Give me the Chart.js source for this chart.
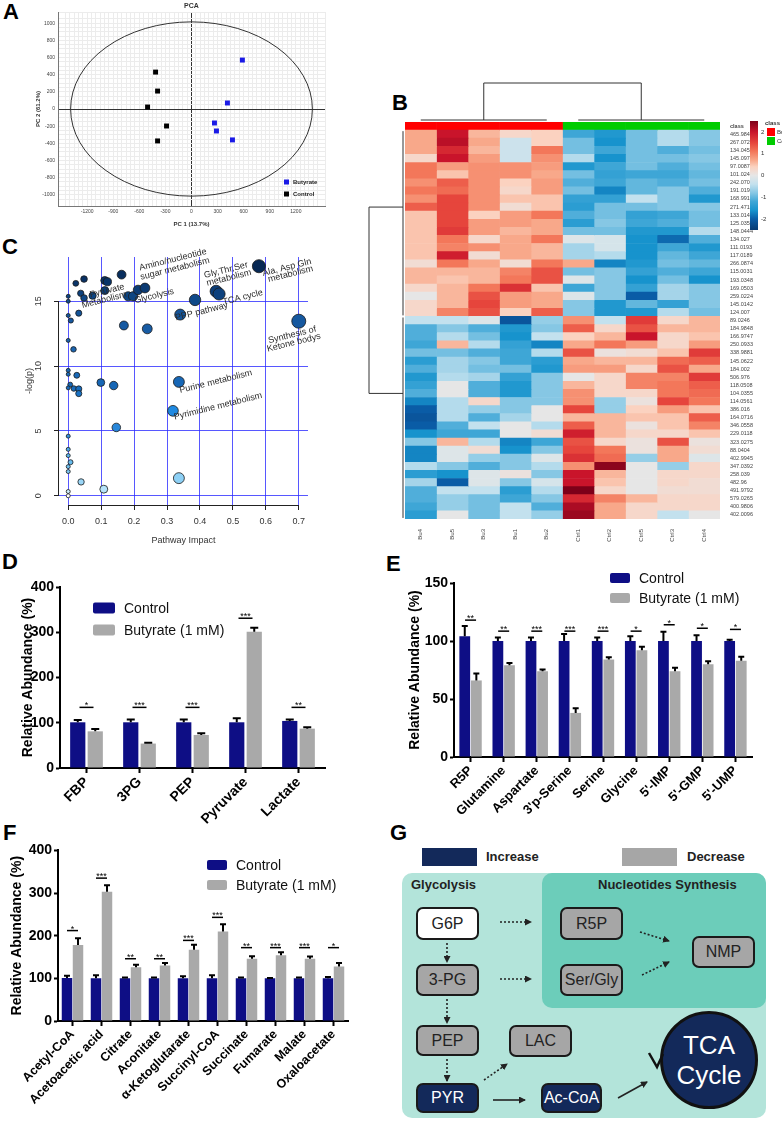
<!DOCTYPE html>
<html>
<head>
<meta charset="utf-8">
<script src="https://cdn.jsdelivr.net/npm/chart.js@4.4.1/dist/chart.umd.min.js"></script>
<style>
  body { margin:0; background:#fff; width:782px; height:1124px; position:relative; overflow:hidden;
         font-family:'Liberation Sans', Arial, sans-serif; }
  canvas { position:absolute; }
  .letter { position:absolute; font-weight:bold; font-size:22px; line-height:1; }
  .abs { position:absolute; }
  .glab { position:absolute; font-weight:bold; font-size:13px; color:#222; }
  .node { position:absolute; box-sizing:border-box; border:2px solid #1a1a1a; border-radius:7px;
          display:flex; align-items:center; justify-content:center; font-size:16px; color:#222; }
  .grey { background:#a6a6a6; }
  .navy { background:#13295a; color:#fff; }
</style>
</head>
<body>
<div class="letter" style="left:3px;top:1px">A</div>
<div class="letter" style="left:392px;top:92px">B</div>
<div class="letter" style="left:2px;top:236px">C</div>
<div class="letter" style="left:2px;top:551px">D</div>
<div class="letter" style="left:386px;top:553px">E</div>
<div class="letter" style="left:3px;top:822px">F</div>
<div class="letter" style="left:390px;top:822px">G</div>

<canvas id="pca" width="340" height="228" style="left:0;top:0"></canvas>
<canvas id="heat" width="452" height="485" style="left:330px;top:60px"></canvas>
<canvas id="path" width="335" height="322" style="left:0;top:228px"></canvas>
<canvas id="glyc" width="380" height="280" style="left:0;top:560px"></canvas>
<canvas id="nuc" width="402" height="280" style="left:380px;top:560px"></canvas>
<canvas id="tca" width="390" height="284" style="left:0;top:840px"></canvas>

<!-- panel G -->
<div class="abs" style="left:422px;top:848px;width:55px;height:18px;background:#13295a"></div>
<div class="glab" style="left:486px;top:849px">Increase</div>
<div class="abs" style="left:622px;top:848px;width:55px;height:18px;background:#a6a6a6"></div>
<div class="glab" style="left:687px;top:849px">Decrease</div>
<div class="abs" style="left:402px;top:873px;width:364px;height:245px;background:#b3e4da;border-radius:10px"></div>
<div class="abs" style="left:542px;top:873px;width:224px;height:135px;background:#6ccdba;border-radius:10px"></div>
<div class="glab" style="left:411px;top:877px">Glycolysis</div>
<div class="glab" style="left:598px;top:877px">Nucleotides Synthesis</div>
<div class="node" style="left:416px;top:907px;width:63px;height:33px;background:#fff">G6P</div>
<div class="node grey" style="left:416px;top:964px;width:63px;height:32px">3-PG</div>
<div class="node grey" style="left:416px;top:1025px;width:63px;height:31px">PEP</div>
<div class="node navy" style="left:416px;top:1083px;width:63px;height:30px">PYR</div>
<div class="node grey" style="left:560px;top:907px;width:63px;height:33px">R5P</div>
<div class="node grey" style="left:560px;top:964px;width:63px;height:32px">Ser/Gly</div>
<div class="node grey" style="left:692px;top:936px;width:63px;height:32px">NMP</div>
<div class="node grey" style="left:509px;top:1025px;width:63px;height:32px">LAC</div>
<div class="node navy" style="left:541px;top:1083px;width:61px;height:30px">Ac-CoA</div>
<div class="abs" style="left:660px;top:1011px;width:98px;height:98px;box-sizing:border-box;border-radius:50%;
     border:3px solid #111;background:#13295a;color:#fff;font-size:26px;line-height:30px;
     display:flex;align-items:center;justify-content:center;text-align:center">TCA<br>Cycle</div>
<svg class="abs" style="left:0;top:0" width="782" height="1124" viewBox="0 0 782 1124">
  <defs>
    <marker id="ah" markerWidth="7" markerHeight="7" refX="6" refY="3.5" orient="auto" markerUnits="userSpaceOnUse">
      <path d="M0,0 L7,3.5 L0,7 z" fill="#222"/>
    </marker>
  </defs>
  <g stroke="#222" stroke-width="1.6" stroke-dasharray="2,2" fill="none" marker-end="url(#ah)">
    <line x1="500" y1="922" x2="531" y2="922"/>
    <line x1="500" y1="979" x2="531" y2="979"/>
    <line x1="447" y1="943" x2="447" y2="962"/>
    <line x1="447" y1="999" x2="447" y2="1023"/>
    <line x1="447" y1="1059" x2="447" y2="1081"/>
    <line x1="484" y1="1080" x2="507" y2="1064"/>
    <line x1="640" y1="932" x2="669" y2="941"/>
    <line x1="642" y1="975" x2="669" y2="962"/>
  </g>
  <g stroke="#222" stroke-width="1.6" fill="none" marker-end="url(#ah)">
    <line x1="493" y1="1100" x2="525" y2="1100"/>
    <line x1="618" y1="1098" x2="647" y2="1082"/>
  </g>
  <polyline points="649,1053 657,1067 663,1054" stroke="#111" stroke-width="2.5" fill="none"/>
</svg>

<script>
// ---------- data ----------
// A: PCA scores
const pcaControlX = [-413, -390, -505, -287, -390];
const pcaControlY = [430, 209, 23, -198, -372];
const pcaButyrateX = [585, 413, 264, 287, 471];
const pcaButyrateY = [570, 70, -163, -256, -360];
const ellipseRadiusX = 1390;
const ellipseRadiusY = 1015;

// B: heatmap (rows = features, columns = samples)
const sampleLabels = ['Bu4', 'Bu5', 'Bu3', 'Bu1', 'Bu2', 'Ctrl1', 'Ctrl2', 'Ctrl5', 'Ctrl3', 'Ctrl4'];
const featureLabels = ['465.9845', '267.0729', '134.0456', '145.0977', '97.0087', '101.024', '242.0707',
  '191.0195', '168.9918', '271.4719', '133.0146', '125.0351', '148.0444', '134.027', '111.0193', '117.0189',
  '266.0874', '115.0031', '193.0348', '169.0503', '259.0224', '145.0142', '124.007', '89.0246', '184.9848',
  '166.9747', '250.0933', '338.9881', '145.0622', '184.002', '506.976', '118.0508', '104.0355', '114.0561',
  '386.016', '164.0716', '346.0558', '229.0118', '323.0275', '88.0404', '402.9945', '347.0392', '258.039',
  '482.96', '491.9792', '579.0265', '400.9806', '402.0096'];
const heatRows = [
  [0.7, 2.0, 0.6, 0.3, 0.4, -1.2, -1.5, -0.9, -0.5, -0.8],
  [0.7, 2.1, 0.7, -0.3, 0.4, -0.9, -1.6, -0.9, -0.5, -0.8],
  [0.7, 1.8, 0.6, -0.3, 1.1, -0.9, -1.2, -0.9, -1.1, -0.9],
  [0.3, 2.0, 0.8, -0.3, 0.9, -0.5, -1.6, -0.9, -0.9, -0.8],
  [1.1, 0.8, 0.9, 0.9, 0.8, -1.5, -1.2, -0.9, -1.1, -0.9],
  [1.1, 0.5, 0.9, 0.9, 0.7, -0.9, -1.3, -1.2, -1.2, -1.0],
  [0.9, 1.3, 0.9, 0.4, 0.8, -1.1, -1.2, -1.0, -1.1, -0.9],
  [1.1, 1.2, 0.9, 0.3, 0.8, -0.9, -1.7, -1.0, -0.8, -1.1],
  [0.9, 1.5, 0.9, 0.5, 0.5, -1.3, -1.3, -0.4, -0.8, -1.5],
  [1.3, 1.5, 0.9, 0.2, 0.5, -1.4, -0.9, -0.9, -0.8, -0.8],
  [0.5, 1.5, 0.4, 0.8, 1.1, -1.1, -0.9, -1.3, -1.2, -0.9],
  [0.5, 1.5, 0.8, 0.8, 0.7, -1.4, -0.8, -1.2, -1.1, -0.9],
  [0.5, 1.6, 0.8, 0.6, 0.7, -0.9, -0.9, -1.5, -1.5, -0.5],
  [0.5, 1.1, 0.3, 0.7, 1.1, -0.1, -0.2, -1.6, -1.9, -1.1],
  [0.5, 1.0, 0.9, 0.7, 0.6, -0.6, -0.2, -1.6, -1.2, -1.5],
  [0.5, 1.9, 0.2, 0.7, 0.6, -0.6, -0.5, -1.6, -1.0, -1.2],
  [0.2, 1.1, 0.7, 0.2, 1.1, 0.7, -1.7, -1.5, -0.9, -1.0],
  [0.6, 0.6, 0.6, 1.0, 1.4, -0.9, -0.8, -1.3, -1.1, -1.2],
  [0.6, 0.5, 0.6, 1.1, 1.4, -0.1, -0.8, -1.6, -0.9, -1.6],
  [0.3, 0.6, 1.1, 1.7, 0.5, -1.2, -0.8, -1.3, -0.6, -0.8],
  [0.0, 0.6, 1.4, 0.8, 0.7, -0.1, -0.8, -2.0, -0.6, -0.8],
  [0.3, 0.6, 1.5, 0.8, 0.7, -0.8, -1.5, -1.0, -1.3, -0.8],
  [0.3, 1.0, 1.4, 0.4, 1.3, -0.8, -1.5, -1.5, -0.5, -0.9],
  [-0.4, -0.4, -0.1, -2.1, -0.7, 0.9, -0.4, 1.6, 0.3, 0.6],
  [-1.1, -0.8, -1.1, -1.5, -0.8, 1.3, 0.3, 1.4, 0.6, 0.6],
  [-1.1, -0.5, -0.9, -1.6, -0.4, 0.4, 0.6, 2.0, 0.3, 0.5],
  [-1.2, 0.6, -0.5, -1.3, -1.7, 0.7, 1.1, 0.8, 0.3, 0.8],
  [-0.9, -0.9, -1.1, -1.2, -0.5, 1.4, 0.1, 0.2, 0.5, 1.6],
  [-1.4, -0.6, -0.8, -1.2, -1.4, 0.7, 0.6, 0.6, 1.2, 1.3],
  [-1.1, -0.6, -0.9, -0.9, -1.5, 0.8, 0.8, 0.3, 1.4, 0.7],
  [-1.5, -0.5, -0.6, -1.3, -0.8, 0.0, 0.3, 1.0, 1.0, 1.6],
  [-1.3, 0.0, -1.1, -1.5, -0.8, 0.6, 0.3, 1.0, 1.1, 1.3],
  [-1.1, 0.0, -1.1, -1.5, -0.8, 0.9, 0.3, 0.3, 1.1, 1.2],
  [-1.7, -0.5, 0.3, -0.8, -0.8, 0.9, -0.7, 0.1, 1.5, 1.1],
  [-2.0, -0.5, -0.7, -0.8, 0.0, 1.5, -0.7, 0.4, 0.8, 0.5],
  [-2.1, -0.5, -1.1, -0.6, 0.0, 0.6, 0.6, 0.5, 0.5, 1.3],
  [-2.0, -1.1, -0.4, 0.0, -0.5, 1.3, 0.6, 0.1, 0.5, 1.0],
  [-1.6, -1.2, -1.2, 0.0, 0.2, 1.9, 0.6, 0.3, 0.3, 0.5],
  [-0.8, 0.6, -0.5, -1.7, -1.2, 1.4, 0.3, 0.1, 1.4, 0.1],
  [-1.7, -0.1, 0.2, -1.6, -0.8, 1.5, 1.1, 0.1, 0.7, 0.2],
  [-1.7, -0.1, -0.7, -0.8, -0.1, 1.7, 1.2, -0.7, 0.7, -0.1],
  [-0.5, -0.8, -1.1, -0.8, -0.5, 0.9, 2.4, 0.0, -0.7, 0.3],
  [-1.4, -1.6, -0.1, 0.1, -0.8, 2.0, 0.6, 0.0, 0.3, 0.3],
  [-0.6, -2.0, -0.1, -0.8, -0.2, 2.0, 0.5, 0.0, 0.3, 0.2],
  [-1.1, -0.4, -0.4, -1.4, -0.5, 2.5, 0.3, 0.0, 0.2, 0.2],
  [-1.1, -0.7, -0.9, -1.2, -0.8, 1.8, 1.0, 0.6, 0.3, 0.3],
  [-1.2, -0.7, -0.9, -0.4, -1.1, 2.2, 0.7, 0.3, 0.3, 0.3],
  [-1.4, 0.0, -0.9, -0.4, -0.7, 2.3, 0.7, 0.3, -0.4, 0.0]
];

// C: pathway analysis
const pathwayImpact = [0.579, 0.700, 0.449, 0.458, 0.385, 0.340, 0.336, 0.336, 0.318, 0.146, 0.108, 0.039,
  0.240, 0.169, 0.099, 0.138, 0.162, 0.111, 0.119, 0.111, 0.182, 0.197, 0.212, 0.233, 0.048, 0.023, 0.038,
  0.048, 0.074, 0.032, 0.008, 0.016, 0.026, 0.006, 0.017, 0.032, 0.032, 0.007,
  0, 0, 0, 0, 0, 0, 0, 0, 0, 0, 0, 0, 0, 0];
const pathwayLogP = [17.7, 13.46, 15.77, 15.56, 15.1, 13.97, 1.36, 8.78, 6.55, 5.27, 0.51, 1.07,
  12.87, 13.13, 8.73, 8.5, 17.05, 16.6, 16.5, 15.82, 15.38, 15.38, 15.87, 16.02, 16.71, 16.38, 15.61,
  15.25, 15.43, 14.08, 13.51, 11.29, 9.29, 8.57, 8.27, 8.24, 7.88, 2.59,
  15.38, 15.0, 13.9, 11.98, 9.67, 9.37, 8.32, 4.6, 3.58, 3.1, 2.25, 1.87, 0.33, 0.0];
const pathwayNames = ['Amino/nucleotide', 'sugar metabolism', 'Gly,Thr,Ser', 'metabolism', 'Ala, Asp Gln',
  'metabolism', 'Pyruvate', 'Metabolism', 'Glycolysis', 'TCA cycle', 'PPP pathway', 'Synthesis of',
  'Ketone bodys', 'Purine metabolism', 'Pyrimidine metabolism'];
const pathwayNameX = [0.318, 0.324, 0.479, 0.488, 0.664, 0.675, 0.118, 0.109, 0.261, 0.53, 0.405, 0.68, 0.685, 0.448, 0.455];
const pathwayNameY = [18.2, 17.5, 17.4, 16.8, 17.6, 17.1, 15.8, 15.1, 15.4, 15.3, 14.2, 12.4, 11.8, 8.8, 6.9];

// D: glycolysis
const glycCats = ['FBP', '3PG', 'PEP', 'Pyruvate', 'Lactate'];
const glycControl = [101, 101, 101, 101, 104];
const glycControlErr = [5, 6, 6, 9, 3];
const glycButyrate = [81, 54, 73, 301, 87];
const glycButyrateErr = [5, 2, 4, 9, 3];
const glycSig = ['*', '***', '***', '***', '**'];
const glycSigLevel = [134, 134, 134, 331, 134];

// E: nucleotide synthesis
const nucCats = ['R5P', 'Glutamine', 'Aspartate', "3'p-Serine", 'Serine', 'Glycine', "5'-IMP", "5'-GMP", "5'-UMP"];
const nucControl = [104, 100, 100, 100, 100, 100, 100, 100, 100];
const nucControlErr = [9, 3, 3, 6, 3, 4, 8, 5, 1];
const nucButyrate = [66, 79, 74, 38, 84, 92, 74, 80, 83];
const nucButyrateErr = [6, 2, 1.5, 4, 2, 3, 3, 2.5, 3.5];
const nucSig = ['**', '**', '***', '***', '***', '*', '*', '*', '*'];
const nucSigLevel = [118, 108.5, 108.5, 108.5, 108.5, 108.5, 114, 111, 110];

// F: TCA cycle
const tcaCats = ['Acetyl-CoA', 'Acetoacetic acid', 'Citrate', 'Aconitate', 'α-Ketoglutarate', 'Succinyl-CoA',
  'Succinate', 'Fumarate', 'Malate', 'Oxaloacetate'];
const tcaControl = [101, 100, 100, 100, 100, 100, 100, 100, 100, 100];
const tcaControlErr = [5, 7, 2, 2, 5, 7, 2, 1, 2, 3];
const tcaButyrate = [178, 303, 126, 130, 167, 210, 146, 154, 146, 128];
const tcaButyrateErr = [16, 15, 6, 6, 12, 17, 6, 7, 5, 8];
const tcaSig = ['*', '***', '**', '**', '***', '***', '**', '***', '***', '*'];
const tcaSigLevel = [212, 335, 146, 146, 189, 243, 172, 172, 172, 172];

// ---------- helpers ----------
const FONT = "'Liberation Sans', Arial, sans-serif";
Chart.defaults.font.family = FONT;
Chart.defaults.color = '#000';
const NAVY = '#0e0e85';
const GREY = '#a9a9a9';

function hexRgb(h) {
  return [parseInt(h.slice(1, 3), 16), parseInt(h.slice(3, 5), 16), parseInt(h.slice(5, 7), 16)];
}
function rampColour(stops, v) {
  if (v <= stops[0][0]) return stops[0][1];
  for (let i = 1; i < stops.length; i++) {
    if (v <= stops[i][0]) {
      const t = (v - stops[i - 1][0]) / (stops[i][0] - stops[i - 1][0]);
      const a = hexRgb(stops[i - 1][1]), b = hexRgb(stops[i][1]);
      return 'rgb(' + a.map((c, k) => Math.round(c + (b[k] - c) * t)).join(',') + ')';
    }
  }
  return stops[stops.length - 1][1];
}
const heatStops = [[-2.5, '#083a72'], [-2.0, '#0a5ca6'], [-1.6, '#1793cd'], [-1.2, '#3ea6d6'], [-0.8, '#86c7e4'],
  [-0.4, '#c3e1ee'], [0, '#e6e6e6'], [0.4, '#fbd2c0'], [0.7, '#f8a88a'], [1.1, '#f3775a'], [1.5, '#e6453c'],
  [2.0, '#c9142b'], [2.5, '#7d0019']];
const pStops = [[0, '#ffffff'], [0.5, '#b5e3fa'], [1.5, '#86cdf4'], [3, '#5bb6ec'], [5, '#2a86d8'], [6.5, '#1f8ae2'],
  [8.5, '#1666b5'], [9.5, '#1a6ab8'], [12, '#1a62ab'], [13.5, '#16589f'], [15, '#0f4b8c'], [16, '#0b3a72'],
  [17, '#082e5e'], [18, '#06264f']];

const base = { animation: false, responsive: false, events: [], devicePixelRatio: 1 };

// ---------- A: PCA ----------
const pcaExtras = {
  id: 'pcaExtras',
  beforeDatasetsDraw(chart) {
    const { ctx, scales: { x, y } } = chart;
    const cx = x.getPixelForValue(0), cy = y.getPixelForValue(0);
    ctx.save();
    ctx.beginPath();
    ctx.ellipse(cx, cy, x.getPixelForValue(ellipseRadiusX) - cx, cy - y.getPixelForValue(ellipseRadiusY), 0, 0, Math.PI * 2);
    ctx.strokeStyle = '#333';
    ctx.lineWidth = 1;
    ctx.stroke();
    ctx.restore();
  },
  afterDraw(chart) {
    const { ctx, scales: { x } } = chart;
    ctx.save();
    ctx.fillStyle = '#333';
    ctx.font = 'bold 7px ' + FONT;
    ctx.textAlign = 'center';
    ctx.textBaseline = 'middle';
    ctx.fillText('PCA', x.getPixelForValue(0), 6);
    ctx.textAlign = 'left';
    ctx.font = 'bold 6px ' + FONT;
    [['#1a1ae6', 'Butyrate', 182], ['#000', 'Control', 194]].forEach(([c, t, yy]) => {
      ctx.fillStyle = c;
      ctx.fillRect(284, yy - 2.5, 5, 5);
      ctx.fillStyle = '#222';
      ctx.fillText(t, 293, yy);
    });
    ctx.restore();
  }
};

function pcaAxis(min, max, every, size, title) {
  return {
    min: min, max: max,
    afterFit: s => { if (s.isHorizontal()) s.height = size; else s.width = size; },
    ticks: { stepSize: 50, autoSkip: false, maxRotation: 0, font: { size: 5 }, color: '#444', padding: 3,
      callback: v => (Math.round(v) % every === 0 ? Math.round(v) : '') },
    grid: { drawTicks: false,
      color: c => (c.tick && Math.round(c.tick.value) === 0 ? '#333' : '#ececec'),
      lineWidth: 1 },
    border: { color: '#777', width: 1 },
    title: { display: true, text: title, font: { size: 6, weight: 'bold' }, color: '#333', padding: { top: 1, bottom: 0 } }
  };
}

new Chart(document.getElementById('pca'), {
  type: 'scatter',
  data: {
    datasets: [
      { label: 'Butyrate', data: pcaButyrateX.map((v, i) => ({ x: v, y: pcaButyrateY[i] })),
        pointStyle: 'rect', pointRadius: 3.5, backgroundColor: '#1a1ae6', borderWidth: 0 },
      { label: 'Control', data: pcaControlX.map((v, i) => ({ x: v, y: pcaControlY[i] })),
        pointStyle: 'rect', pointRadius: 3.5, backgroundColor: '#000', borderWidth: 0 }
    ]
  },
  options: Object.assign({}, base, {
    layout: { padding: { left: 34, top: 12, right: 15, bottom: 0 }, autoPadding: false },
    plugins: { legend: { display: false }, tooltip: { enabled: false } },
    scales: {
      x: pcaAxis(-1535, 1535, 300, 22, 'PC 1 (13.7%)'),
      y: pcaAxis(-1130, 1130, 200, 24, 'PC 2 (61.2%)')
    }
  }),
  plugins: [pcaExtras]
});

// ---------- B: heatmap ----------
const heatExtras = {
  id: 'heatExtras',
  afterDraw(chart) {
    const { ctx, chartArea: ca, scales: { x, y } } = chart;
    ctx.save();
    ctx.strokeStyle = '#333';
    ctx.lineWidth = 1;
    // column dendrogram
    const xb = x.getPixelForValue(2.5), xc = x.getPixelForValue(7.5), yTop = ca.top - 39, ySub = ca.top - 2;
    ctx.beginPath();
    ctx.moveTo(xb, ySub); ctx.lineTo(xb, yTop); ctx.lineTo(xc, yTop); ctx.lineTo(xc, ySub);
    ctx.moveTo(x.getPixelForValue(0.5), ySub); ctx.lineTo(x.getPixelForValue(4.5), ySub);
    ctx.moveTo(x.getPixelForValue(5.5), ySub); ctx.lineTo(x.getPixelForValue(9.5), ySub);
    ctx.stroke();
    // row dendrogram
    const xl = ca.left - 36, ya = y.getPixelForValue(10), yb = y.getPixelForValue(33), xe = ca.left - 2;
    ctx.beginPath();
    ctx.moveTo(xe, ya); ctx.lineTo(xl, ya); ctx.lineTo(xl, yb); ctx.lineTo(xe, yb);
    ctx.moveTo(xe, y.getPixelForValue(1) - 3); ctx.lineTo(xe, y.getPixelForValue(23) + 3);
    ctx.moveTo(xe, y.getPixelForValue(24) - 3); ctx.lineTo(xe, y.getPixelForValue(48) + 3);
    ctx.stroke();
    // colour key
    const kx = 420, ky0 = 61, ky1 = 170;
    const g = ctx.createLinearGradient(0, ky0, 0, ky1);
    heatStops.forEach(([v, c]) => g.addColorStop((2.5 - v) / 5, c));
    ctx.fillStyle = g;
    ctx.fillRect(kx, ky0, 8, ky1 - ky0);
    ctx.fillStyle = '#333';
    ctx.font = '6px ' + FONT;
    ctx.textBaseline = 'middle';
    [2, 1, 0, -1, -2].forEach(v => ctx.fillText(String(v), 431, ky0 + (2.5 - v) / 5 * (ky1 - ky0)));
    ctx.font = 'bold 6px ' + FONT;
    ctx.fillText('class', 435, 63);
    ctx.fillStyle = '#ff0000'; ctx.fillRect(437, 68, 8, 8);
    ctx.fillStyle = '#00cc00'; ctx.fillRect(437, 77, 8, 8);
    ctx.fillStyle = '#333';
    ctx.font = '6px ' + FONT;
    ctx.fillText('Butyrate', 447, 72);
    ctx.fillText('Control', 447, 81);
    ctx.restore();
  }
};

new Chart(document.getElementById('heat'), {
  type: 'bar',
  data: {
    labels: ['class'].concat(featureLabels),
    datasets: sampleLabels.map((s, j) => ({
      label: s,
      data: [1].concat(heatRows.map(() => 1)),
      backgroundColor: [j < 5 ? '#ff0000' : '#00cc00'].concat(heatRows.map(r => rampColour(heatStops, r[j]))),
      borderWidth: 0, barPercentage: 1, categoryPercentage: 1, xAxisID: 'x', yAxisID: 'y'
    }))
  },
  options: Object.assign({}, base, {
    indexAxis: 'y',
    layout: { padding: { left: 75, top: 62, right: 22, bottom: 0 }, autoPadding: false },
    plugins: { legend: { display: false }, tooltip: { enabled: false } },
    scales: {
      x: { type: 'linear', stacked: true, min: 0, max: 10, display: false },
      x2: { type: 'category', labels: sampleLabels, position: 'bottom', offset: true,
        afterFit: s => { s.height = 26; },
        grid: { display: false }, border: { display: false },
        ticks: { font: { size: 6 }, color: '#444', minRotation: 90, maxRotation: 90, padding: 2, autoSkip: false } },
      y: { type: 'category', position: 'right', stacked: true,
        afterFit: s => { s.width = 40; },
        grid: { display: false }, border: { display: false },
        ticks: { font: c => ({ size: 5.5, weight: c.index === 0 ? 'bold' : 'normal' }), color: '#444', padding: 2, autoSkip: false } }
    }
  }),
  plugins: [heatExtras]
});

// ---------- C: pathway impact ----------
const pathExtras = {
  id: 'pathExtras',
  afterDraw(chart) {
    const { ctx, chartArea: ca, scales: { x, y } } = chart;
    ctx.save();
    ctx.strokeStyle = '#222';
    ctx.lineWidth = 1;
    ctx.beginPath();
    ctx.moveTo(x.getPixelForValue(0), ca.bottom + 0.5); ctx.lineTo(x.getPixelForValue(0.7), ca.bottom + 0.5);
    ctx.moveTo(ca.left - 0.5, y.getPixelForValue(0)); ctx.lineTo(ca.left - 0.5, y.getPixelForValue(15));
    ctx.stroke();
    ctx.fillStyle = '#333';
    ctx.font = '9px ' + FONT;
    ctx.textAlign = 'center';
    ctx.textBaseline = 'middle';
    [0, 5, 10, 15].forEach(v => {
      ctx.save();
      ctx.translate(ca.left - 20, y.getPixelForValue(v));
      ctx.rotate(-Math.PI / 2);
      ctx.fillText(String(v), 0, 0);
      ctx.restore();
    });
    ctx.fillStyle = '#2a2a2a';
    pathwayNames.forEach((t, i) => {
      ctx.save();
      ctx.translate(x.getPixelForValue(pathwayNameX[i]), y.getPixelForValue(pathwayNameY[i]));
      ctx.rotate(-14 * Math.PI / 180);
      ctx.fillText(t, 0, 0);
      ctx.restore();
    });
    ctx.restore();
  }
};

new Chart(document.getElementById('path'), {
  type: 'bubble',
  data: {
    datasets: [{
      data: pathwayImpact.map((v, i) => ({ x: v, y: pathwayLogP[i] })),
      radius: c => 2 + 5 * Math.sqrt(c.raw.x / 0.7),
      backgroundColor: c => rampColour(pStops, c.raw.y),
      borderColor: '#1a1a1a', borderWidth: 0.8
    }]
  },
  options: Object.assign({}, base, {
    layout: { padding: { left: 20, top: 29, right: 27, bottom: 0 }, autoPadding: false },
    plugins: { legend: { display: false }, tooltip: { enabled: false } },
    scales: {
      x: { min: -0.028, max: 0.728,
        afterBuildTicks: s => { s.ticks = [0, 0.1, 0.2, 0.3, 0.4, 0.5, 0.6, 0.7].map(v => ({ value: v })); },
        afterFit: s => { s.height = 45; },
        ticks: { font: { size: 9 }, color: '#333', padding: 6, maxRotation: 0, callback: v => v.toFixed(1) },
        grid: { color: 'rgba(45,45,255,0.8)', lineWidth: 1, tickColor: '#222', tickLength: 5 },
        border: { display: false },
        title: { display: true, text: 'Pathway Impact', font: { size: 9 }, color: '#333', padding: { top: 4, bottom: 4 } } },
      y: { min: -0.71, max: 18.41,
        afterBuildTicks: s => { s.ticks = [0, 5, 10, 15].map(v => ({ value: v })); },
        afterFit: s => { s.width = 39; },
        ticks: { display: false },
        grid: { color: 'rgba(45,45,255,0.8)', lineWidth: 1, tickColor: '#222', tickLength: 5 },
        border: { display: false },
        title: { display: true, text: '-log(p)', font: { size: 9 }, color: '#333', padding: { top: 4, bottom: 4 } } }
    }
  }),
  plugins: [pathExtras]
});

// ---------- D, E, F: bar charts ----------
function barChart(id, cats, ctrl, ctrlErr, but, butErr, sig, sigLevel, o) {
  const decor = {
    id: 'barDecor',
    afterDatasetsDraw(chart) {
      const { ctx, scales: { x, y } } = chart;
      ctx.save();
      ctx.strokeStyle = '#000';
      ctx.lineWidth = 2;
      chart.data.datasets.forEach((ds, di) => {
        chart.getDatasetMeta(di).data.forEach((bar, i) => {
          const top = y.getPixelForValue(ds.data[i] + ds.err[i]);
          ctx.beginPath();
          ctx.moveTo(bar.x, bar.y); ctx.lineTo(bar.x, top);
          ctx.moveTo(bar.x - o.cap, top); ctx.lineTo(bar.x + o.cap, top);
          ctx.stroke();
        });
      });
      ctx.lineWidth = 1.5;
      ctx.fillStyle = '#000';
      ctx.font = '9px ' + FONT;
      ctx.textAlign = 'center';
      ctx.textBaseline = 'alphabetic';
      sig.forEach((s, i) => {
        const cx = x.getPixelForValue(i), ly = y.getPixelForValue(sigLevel[i]);
        ctx.beginPath();
        ctx.moveTo(cx - o.sigHalf, ly); ctx.lineTo(cx + o.sigHalf, ly);
        ctx.stroke();
        ctx.fillText(s, cx, ly + 1);
      });
      ctx.restore();
    },
    afterDraw(chart) {
      const { ctx } = chart;
      ctx.save();
      ctx.font = '14px ' + FONT;
      ctx.textBaseline = 'middle';
      chart.data.datasets.forEach((ds, i) => {
        const cy = o.legY + i * o.legDy;
        ctx.fillStyle = ds.backgroundColor;
        ctx.beginPath();
        ctx.roundRect(o.legX, cy - o.legH / 2, o.legW, o.legH, 2);
        ctx.fill();
        ctx.fillStyle = '#111';
        ctx.fillText(ds.label, o.legX + o.legW + 9, cy + 1);
      });
      ctx.restore();
    }
  };
  return new Chart(document.getElementById(id), {
    type: 'bar',
    data: {
      labels: cats,
      datasets: [
        { label: 'Control', data: ctrl, err: ctrlErr, backgroundColor: NAVY,
          categoryPercentage: o.catPct, barPercentage: o.barPct },
        { label: 'Butyrate (1 mM)', data: but, err: butErr, backgroundColor: GREY,
          categoryPercentage: o.catPct, barPercentage: o.barPct }
      ]
    },
    options: Object.assign({}, base, {
      layout: { padding: o.pad, autoPadding: false },
      plugins: { legend: { display: false }, tooltip: { enabled: false } },
      scales: {
        x: { afterFit: s => { s.height = o.xh; },
          grid: { drawOnChartArea: false, offset: false, tickLength: 5, tickWidth: 2, tickColor: '#000' },
          border: { color: '#000', width: 2 },
          ticks: { font: { size: o.xFont, weight: 'bold' }, color: '#000', minRotation: 45, maxRotation: 45,
            padding: 1, autoSkip: false } },
        y: { min: 0, max: o.max, afterFit: s => { s.width = o.yw; },
          ticks: { stepSize: o.step, font: { size: 14, weight: 'bold' }, color: '#000', padding: 2 },
          grid: { drawOnChartArea: false, tickLength: 4, tickWidth: 2, tickColor: '#000' },
          border: { color: '#000', width: 2 },
          title: { display: true, text: 'Relative Abundance (%)', font: { size: 14, weight: 'bold' }, color: '#000' } }
      }
    }),
    plugins: [decor]
  });
}

barChart('glyc', glycCats, glycControl, glycControlErr, glycButyrate, glycButyrateErr, glycSig, glycSigLevel, {
  pad: { left: 16, top: 27, right: 55, bottom: 0 }, xh: 72, yw: 44, max: 400, step: 100,
  catPct: 0.66, barPct: 0.87, xFont: 14, cap: 4, sigHalf: 7,
  legX: 93, legY: 48, legDy: 22, legW: 22, legH: 11
});
barChart('nuc', nucCats, nucControl, nucControlErr, nucButyrate, nucButyrateErr, nucSig, nucSigLevel, {
  pad: { left: 23, top: 23, right: 30, bottom: 0 }, xh: 83, yw: 51, max: 150, step: 50,
  catPct: 0.7, barPct: 0.93, xFont: 13, cap: 3, sigHalf: 5.5,
  legX: 230, legY: 18, legDy: 20, legW: 20, legH: 10
});
barChart('tca', tcaCats, tcaControl, tcaControlErr, tcaButyrate, tcaButyrateErr, tcaSig, tcaSigLevel, {
  pad: { left: 5, top: 9, right: 42, bottom: 0 }, xh: 103, yw: 53, max: 400, step: 100,
  catPct: 0.76, barPct: 0.95, xFont: 12.5, cap: 3, sigHalf: 5.5,
  legX: 207, legY: 25, legDy: 20, legW: 20, legH: 10
});
</script>
</body>
</html>
